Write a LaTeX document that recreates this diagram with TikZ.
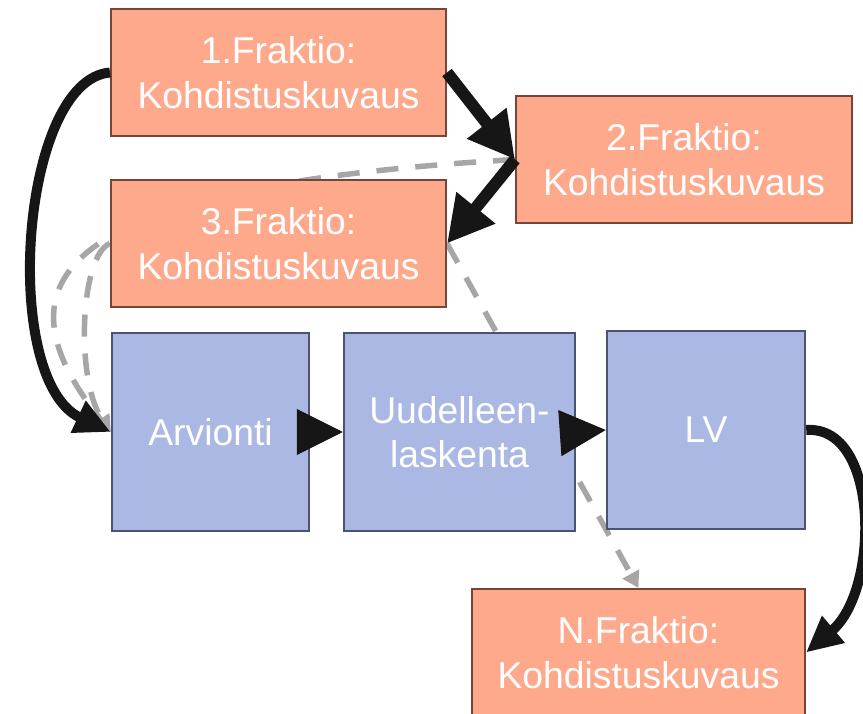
\documentclass[tikz,border=0pt]{standalone}
\usepackage{fontspec}
\setmainfont{Liberation Sans}
\usetikzlibrary{arrows.meta}
\pgfdeclarelayer{behind}
\pgfsetlayers{behind,main}
\definecolor{salmon}{HTML}{FFA98C}
\definecolor{salmonedge}{HTML}{774536}
\definecolor{bluefill}{HTML}{ABB8E4}
\definecolor{blueedge}{HTML}{4A5472}
\definecolor{arrowblack}{HTML}{161616}
\definecolor{dashgray}{HTML}{A6A6A6}
\tikzset{
  txt/.style={text=white, align=center, inner sep=0pt,
    font=\fontsize{37.3}{44.5}\selectfont},
  fbox/.style={txt, draw=salmonedge, fill=salmon, line width=2pt, rectangle},
  pbox/.style={txt, draw=blueedge, fill=bluefill, line width=2.5pt, rectangle},
  bigarrow/.style={draw=arrowblack, line width=12pt,
    -{Triangle[length=46pt,width=47pt]}},
  curvearrow/.style={draw=arrowblack, line width=10pt,
    -{Triangle[length=36pt,width=33pt]}},
  headonly/.style={draw=arrowblack, line width=1pt,
    -{Triangle[length=46pt,width=46pt]}},
  dasharrow/.style={draw=dashgray, line width=5.5pt, dash pattern=on 22pt off 17pt,
    -{Triangle[length=16pt,width=18pt]}}
}
\begin{document}
\begin{tikzpicture}[x=1pt,y=-1pt]
\useasboundingbox (0,0) rectangle (863,714);
% boxes
\node[fbox, minimum width=335pt, minimum height=127pt] (b1) at (278.5,72.5) {1.Fraktio:\\Kohdistuskuvaus};
\node[fbox, minimum width=336pt, minimum height=127pt] (b2) at (684,159.5) {2.Fraktio:\\Kohdistuskuvaus};
\node[fbox, minimum width=335pt, minimum height=127pt] (b3) at (278.5,243.5) {3.Fraktio:\\Kohdistuskuvaus};
\node[pbox, minimum width=197pt, minimum height=198pt] (arv) at (210.5,432) {Arvionti};
\node[pbox, minimum width=231pt, minimum height=198pt] (uud) at (459.5,432) {Uudelleen-\\laskenta};
\node[pbox, minimum width=198pt, minimum height=198pt] (lv) at (706,430) {LV};
\node[fbox, minimum width=333pt, minimum height=127pt] (bn) at (638.5,652.5) {N.Fraktio:\\Kohdistuskuvaus};
% dashed connectors behind the boxes
\begin{pgfonlayer}{behind}
\fill[white] (0,0) rectangle (863,714);
\draw[dasharrow] (b2.west) .. controls (80,185) and (-20,270) .. (arv.west);
\draw[dasharrow] (b3.west) .. controls (80,255) and (75,380) .. (arv.west);
\draw[dasharrow] (b3.east) -- (bn.north);
\end{pgfonlayer}
% solid connectors
\draw[bigarrow] (b1.east) -- (b2.west);
\draw[bigarrow] (b2.west) -- (b3.east);
\draw[curvearrow] (b1.west) .. controls (20,80) and (0,380) .. (arv.west);
\draw[curvearrow] (lv.east) .. controls (880,425) and (880,590) .. (bn.east);
\draw[headonly] (arv.east) -- (uud.west);
\draw[headonly] (uud.east) -- (lv.west);
\end{tikzpicture}
\end{document}
